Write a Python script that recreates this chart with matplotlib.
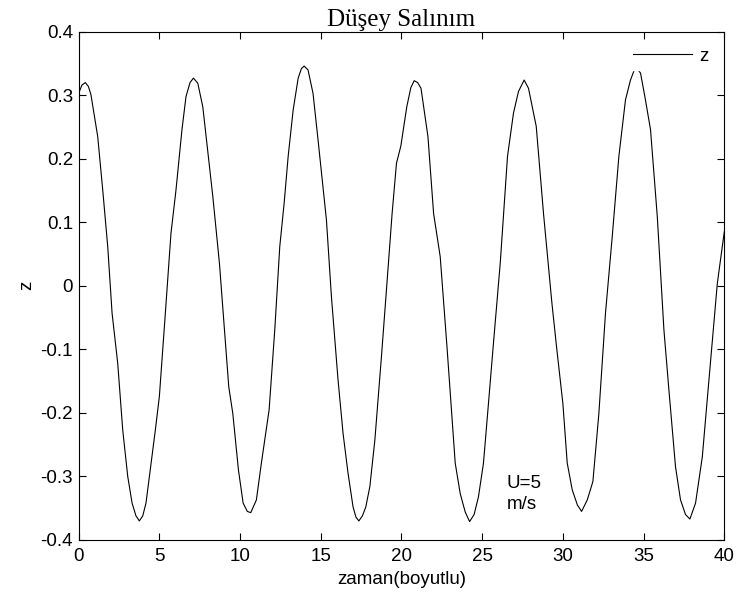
import matplotlib
matplotlib.use("Agg")
import matplotlib.pyplot as plt

t = [0.00, 0.20, 0.41, 0.60, 0.76, 1.18, 1.49, 1.80, 2.07, 2.42, 2.73, 3.04, 3.31, 3.55, 3.76,
     3.97, 4.17, 4.75, 5.00, 5.37, 5.72, 6.03, 6.40, 6.65, 6.90, 7.11, 7.38, 7.69, 8.31,
     8.72, 9.30, 9.55, 9.90, 10.19, 10.45, 10.66, 11.01, 11.32, 11.80, 12.15, 12.46,
     12.73, 12.98, 13.29, 13.60, 13.80, 13.97, 14.21, 14.52, 14.83, 15.35, 15.66,
     16.07, 16.38, 16.69, 17.00, 17.18, 17.36, 17.58, 17.79, 18.04, 18.35, 18.76, 19.07,
     19.42, 19.69, 19.96, 20.33, 20.58, 20.79, 21.00, 21.21, 21.64, 21.99, 22.40, 22.82,
     23.33, 23.64, 23.95, 24.22, 24.50, 24.77, 25.08, 25.39, 25.70, 26.12, 26.57, 26.94,
     27.25, 27.60, 27.87, 28.35, 28.80, 29.32, 29.63, 30.00, 30.27, 30.58, 30.90,
     31.16, 31.51, 31.86, 32.23, 32.64, 33.06, 33.47, 33.88, 34.19, 34.50,
     34.81, 35.08, 35.43, 35.85, 36.26, 36.57, 36.98, 37.29, 37.60, 37.87, 38.22,
     38.64, 39.05, 39.57, 40.00]
z = [0.303, 0.316, 0.320, 0.314, 0.301, 0.235, 0.151, 0.062, -0.043, -0.122, -0.227, -0.300,
     -0.342, -0.362, -0.370, -0.362, -0.342, -0.227, -0.174, -0.043, 0.083, 0.151, 0.246, 0.298,
     0.320, 0.327, 0.319, 0.282, 0.141, 0.036, -0.159, -0.201, -0.290, -0.342, -0.355, -0.357,
     -0.337, -0.279, -0.195, -0.069, 0.062, 0.130, 0.204, 0.277, 0.327, 0.342, 0.346,
     0.340, 0.303, 0.230, 0.104, -0.017, -0.148, -0.232, -0.295, -0.348, -0.364, -0.370,
     -0.362, -0.348, -0.316, -0.243, -0.111, -0.006, 0.114, 0.193, 0.220, 0.282, 0.312, 0.323,
     0.320, 0.311, 0.235, 0.114, 0.046, -0.096, -0.279, -0.327, -0.356, -0.371, -0.360, -0.332,
     -0.279, -0.185, -0.090, 0.036, 0.204, 0.272, 0.306, 0.324, 0.311, 0.251, 0.114,
     -0.027, -0.101, -0.185, -0.279, -0.321, -0.345, -0.355, -0.337, -0.308, -0.201,
     -0.043, 0.078, 0.204, 0.293, 0.324, 0.345, 0.335, 0.298, 0.246, 0.109,
     -0.069, -0.164, -0.285, -0.337, -0.360, -0.367, -0.342, -0.269, -0.148, 0.004, 0.085]

xticks = [0, 5, 10, 15, 20, 25, 30, 35, 40]
yticks = [-0.4, -0.3, -0.2, -0.1, 0, 0.1, 0.2, 0.3, 0.4]
ytick_labels = ["-0.4", "-0.3", "-0.2", "-0.1", "0", "0.1", "0.2", "0.3", "0.4"]

plt.rcParams['font.family'] = ['Liberation Sans', 'DejaVu Sans']
FS = 13.5

fig = plt.figure(figsize=(7.38, 5.99), dpi=100)
ax = fig.add_axes([0.1066, 0.0985, 0.8748, 0.8485])
ax.plot(t, z, color='black', lw=0.8, label='z')
ax.set_xlim(0, 40)
ax.set_ylim(-0.4, 0.4)
ax.set_xticks(xticks)
ax.set_xticklabels([str(v) for v in xticks])
ax.set_yticks(yticks)
ax.set_yticklabels(ytick_labels)
ax.tick_params(direction='in', length=5, width=0.8, top=True, right=True,
               labelsize=FS, pad=4)
ax.tick_params(axis='x', pad=6)
for s in ax.spines.values():
    s.set_linewidth(0.8)
ax.set_xlabel('zaman(boyutlu)', fontsize=FS, labelpad=4)
ax.set_ylabel('z', fontsize=FS, labelpad=4)
ax.set_title('Düşey Salınım', fontsize=18, family='Liberation Serif', pad=4)
ax.text(26.5, -0.298, 'U=5\nm/s', fontsize=FS, ha='left', va='top', linespacing=1.3)
leg = ax.legend(loc='upper right', fontsize=FS, frameon=True, fancybox=False,
                handlelength=3.1, borderpad=0.3, borderaxespad=0.55, handletextpad=0.4)
leg.get_frame().set_edgecolor('white')
leg.get_frame().set_facecolor('white')
leg.get_frame().set_alpha(1)
fig.savefig('out.png', dpi=100)
